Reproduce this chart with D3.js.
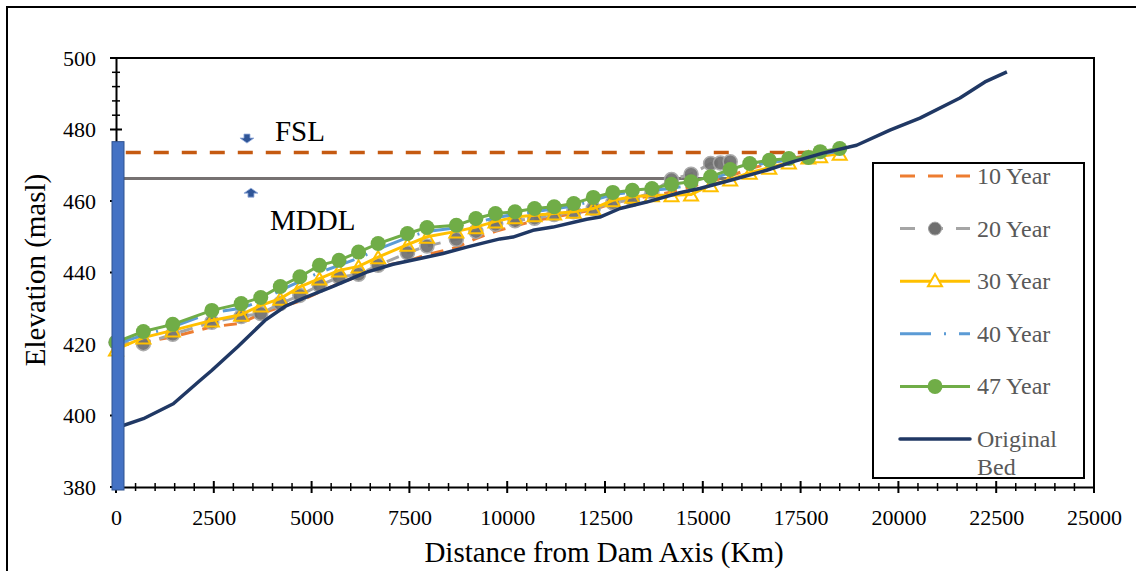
<!DOCTYPE html>
<html><head><meta charset="utf-8">
<script src="https://cdn.jsdelivr.net/npm/d3@7"></script>
<style>
body{margin:0;background:#fff;}
svg{display:block;font-family:"Liberation Serif","Times New Roman",serif;}
</style></head>
<body><svg id="chart" width="1136" height="571"></svg>
<script>
// ---------- data ----------
const stations = [0,700,1450,2450,3200,3700,4200,4700,5200,5700,6200,6700,7450,7950,8700,9200,9700,10200,10700,11200,11700,12200,12700,13200,13700,14200,14700,15200,15700,16200,16700,17200,17700,18000,18500];
const year10 = [419.5,420.5,422,424.8,425.8,428.5,430.3,432,434.5,437,439,441.5,443.2,445,447,449.5,451.5,453,454.5,455.5,456.5,457.5,459.5,460.5,461.5,462.5,464,465.5,467,469,470.5,471.8,472.8,473,473.5];
const year20X = [0,700,1450,2450,3200,3700,4200,4700,5200,5700,6200,6700,7450,7950,8700,9200,9700,10200,10700,11200,11700,12200,12700,13200,13700,14200,14700,15200,15450,15700];
const year20 = [420.5,420.1,422.7,426.1,427.7,428.5,431.3,433.6,436.4,438.7,439.5,442,445.5,447.4,449.3,451.5,453.5,454.5,455.2,456.2,457,457.9,459.5,460.4,462.5,466,467.5,470.5,470.6,471];
const year30 = [418.5,421.8,423.8,426.6,428.2,430.8,432.7,436,438.3,440.6,441.7,444.3,447.8,450,451.5,452.7,454.3,455.5,456,456.5,457,457.9,460.2,461.2,461.6,461.6,461.8,464.4,466,467.9,469.3,470.8,472.2,472.5,473.2];
const year40 = [420,422.5,424.8,428.8,430,432,435,437.5,440,442,444,446.5,449.8,451.5,452.5,454,455.3,456.3,457,457.8,458.6,460.2,461.8,462.5,463,463.5,464.5,466,468,469.8,470.8,471.5,472,473,474];
const year47 = [420.5,423.5,425.5,429.4,431.3,433,436.1,438.8,442,443.4,445.7,448.1,450.9,452.6,453.2,455.1,456.5,457,457.9,458.4,459.3,461,462.4,463,463.5,464.7,465.4,466.8,468.8,470.5,471.4,471.9,472.2,473.8,474.7];
const bedX = [0,698,1465,2147,2446,3118,3808,4320,4831,5547,6408,7080,7770,8358,8964,9475,9815,10147,10659,11170,12031,12371,12883,13565,14409,14921,15778,16632,17312,18071,18932,19783,20550,21573,22212,22774];
const bedY = [396.5,399.1,403.3,409.8,412.6,419.3,426.6,430.5,433.0,436.1,440.1,442.3,443.9,445.3,447.1,448.5,449.4,449.9,451.8,452.7,454.9,455.5,457.9,459.7,462.3,463.5,466,468.6,471,473.4,475.6,479.8,483.2,488.8,493.3,496.1];
const xTicks = [0,2500,5000,7500,10000,12500,15000,17500,20000,22500,25000];
const yTicks = [380,400,420,440,460,480,500];
const legendLabels = ["10 Year","20 Year","30 Year","40 Year","47 Year","Original Bed"];
const fslLevel = 473.6, fslEnd = 18500;
const mddlLevel = 466.3, mddlEnd = 15750;
const damTop = 476.6;

// ---------- scales ----------
const svg = d3.select("#chart");
const x = d3.scaleLinear().domain([0,25000]).range([116,1094]);
const y = d3.scaleLinear().domain([380,500]).range([487,58]);

// outer frame
svg.append("path").attr("d","M7,571 V7 H1136").attr("fill","none").attr("stroke","#000").attr("stroke-width",2);

// plot frame top/right
svg.append("path").attr("d",`M${x(0)},${y(500)} H${x(25000)} V${y(380)}`).attr("fill","none").attr("stroke","#000").attr("stroke-width",2);

// ---------- axes ----------
const gx = svg.append("g").attr("transform",`translate(0,${y(380)})`);
gx.call(d3.axisBottom(x).tickValues(xTicks).tickFormat(d3.format("d")).tickSize(0).tickPadding(22));
gx.select(".domain").attr("stroke","#000").attr("stroke-width",2);
gx.selectAll("text").attr("font-size",22).attr("font-family","Liberation Serif").attr("fill","#000");
gx.selectAll(".major").data(xTicks).enter().append("line").attr("x1",d=>x(d)).attr("x2",d=>x(d)).attr("y1",-6).attr("y2",6).attr("stroke","#000").attr("stroke-width",2);
gx.selectAll(".minor").data(d3.range(500,25000,500).filter(v=>v%2500!==0)).enter().append("line").attr("x1",d=>x(d)).attr("x2",d=>x(d)).attr("y1",-4).attr("y2",4).attr("stroke","#000").attr("stroke-width",1.5);

const gy = svg.append("g").attr("transform",`translate(${x(0)},0)`);
gy.call(d3.axisLeft(y).tickValues(yTicks).tickSize(0).tickPadding(20));
gy.select(".domain").attr("stroke","#000").attr("stroke-width",2);
gy.selectAll("text").attr("font-size",22).attr("font-family","Liberation Serif").attr("fill","#000");
gy.selectAll(".major").data(yTicks).enter().append("line").attr("y1",d=>y(d)).attr("y2",d=>y(d)).attr("x1",-6).attr("x2",6).attr("stroke","#000").attr("stroke-width",2);
gy.selectAll(".minor").data(d3.range(384,500,4).filter(v=>v%20!==0)).enter().append("line").attr("y1",d=>y(d)).attr("y2",d=>y(d)).attr("x1",-4).attr("x2",4).attr("stroke","#000").attr("stroke-width",1.5);

// axis titles
svg.append("text").attr("x",604).attr("y",562).attr("text-anchor","middle").attr("font-size",29).text("Distance from Dam Axis (Km)");
svg.append("text").attr("transform","translate(45,270) rotate(-90)").attr("text-anchor","middle").attr("font-size",29).text("Elevation (masl)");

// ---------- FSL / MDDL ----------
svg.append("line").attr("x1",x(250)).attr("x2",x(fslEnd)).attr("y1",y(fslLevel)).attr("y2",y(fslLevel)).attr("stroke","#C55A11").attr("stroke-width",3.5).attr("stroke-dasharray","15,13");
svg.append("line").attr("x1",x(200)).attr("x2",x(mddlEnd)).attr("y1",y(mddlLevel)).attr("y2",y(mddlLevel)).attr("stroke","#767171").attr("stroke-width",3);

// ---------- series ----------
const line = d3.line().x(d=>x(d[0])).y(d=>y(d[1]));
const zip = (xs,ys)=>xs.map((v,i)=>[v,ys[i]]);
const d10 = zip(stations,year10), d20 = zip(year20X,year20), d30 = zip(stations,year30), d40 = zip(stations,year40), d47 = zip(stations,year47), dBed = zip(bedX,bedY);

const g = svg.append("g");
g.append("path").attr("d",line(d10)).attr("fill","none").attr("stroke","#ED7D31").attr("stroke-width",3).attr("stroke-dasharray","13,9");
g.append("path").attr("d",line(d20)).attr("fill","none").attr("stroke","#A5A5A5").attr("stroke-width",3).attr("stroke-dasharray","13,9");
g.selectAll(".c20").data(d20).enter().append("circle").attr("cx",d=>x(d[0])).attr("cy",d=>y(d[1])).attr("r",7).attr("fill","#6F6F6F").attr("stroke","#A5A5A5").attr("stroke-width",1.5).attr("opacity",0.92);
g.append("path").attr("d",line(d30)).attr("fill","none").attr("stroke","#FFC000").attr("stroke-width",3);
const tri = d3.symbol().type(d3.symbolTriangle).size(85);
g.selectAll(".t30").data(d30).enter().append("path").attr("d",tri).attr("transform",d=>`translate(${x(d[0])},${y(d[1])+2})`).attr("fill","none").attr("stroke","#FFC000").attr("stroke-width",2);
g.append("path").attr("d",line(d40)).attr("fill","none").attr("stroke","#5B9BD5").attr("stroke-width",3).attr("stroke-dasharray","30,12,2,12");
g.append("path").attr("d",line(d47)).attr("fill","none").attr("stroke","#70AD47").attr("stroke-width",3);
g.selectAll(".c47").data(d47).enter().append("circle").attr("cx",d=>x(d[0])).attr("cy",d=>y(d[1])).attr("r",7.5).attr("fill","#70AD47");
g.append("path").attr("d",line(dBed)).attr("fill","none").attr("stroke","#203864").attr("stroke-width",3.5).attr("stroke-linejoin","round");

// dam
svg.append("rect").attr("x",x(0)-4).attr("width",12).attr("y",y(damTop)).attr("height",y(380)-y(damTop)+3).attr("fill","#4472C4").attr("stroke","#2F528F").attr("stroke-width",1);

// arrows + labels
function blockArrow(cx, tipY, dir){
  const h = 9, sh = 4, w = 14, sw = 6;
  const base = tipY - dir*h;
  const neck = tipY - dir*(h - sh);
  return `M${cx-sw/2},${base} L${cx+sw/2},${base} L${cx+sw/2},${neck} L${cx+w/2},${neck} L${cx},${tipY} L${cx-w/2},${neck} L${cx-sw/2},${neck} Z`;
}
svg.append("path").attr("d",blockArrow(x(3348),y(476.2),1)).attr("fill","#2F5597").attr("stroke","#8FAADC").attr("stroke-width",0.8);
svg.append("path").attr("d",blockArrow(x(3450),y(463.6),-1)).attr("fill","#2F5597").attr("stroke","#8FAADC").attr("stroke-width",0.8);
svg.append("text").attr("x",x(4064)).attr("y",y(476.8)).attr("font-size",29).text("FSL");
svg.append("text").attr("x",x(3936)).attr("y",y(451.8)).attr("font-size",29).text("MDDL");

// ---------- legend ----------
const lg = svg.append("g");
lg.append("rect").attr("x",873).attr("y",163).attr("width",211).attr("height",315).attr("fill","#fff").attr("stroke","#000").attr("stroke-width",2);
const rowY = i => 176 + i*52.6;
const lx1 = 900, lx2 = 970;
lg.append("line").attr("x1",lx1).attr("x2",lx2).attr("y1",rowY(0)).attr("y2",rowY(0)).attr("stroke","#ED7D31").attr("stroke-width",3).attr("stroke-dasharray","15,13");
lg.append("line").attr("x1",lx1).attr("x2",lx2).attr("y1",rowY(1)).attr("y2",rowY(1)).attr("stroke","#A5A5A5").attr("stroke-width",3).attr("stroke-dasharray","15,13");
lg.append("circle").attr("cx",(lx1+lx2)/2).attr("cy",rowY(1)).attr("r",6.5).attr("fill","#6F6F6F").attr("stroke","#A5A5A5").attr("stroke-width",1);
lg.append("line").attr("x1",lx1).attr("x2",lx2).attr("y1",rowY(2)).attr("y2",rowY(2)).attr("stroke","#FFC000").attr("stroke-width",3);
lg.append("path").attr("d",tri).attr("transform",`translate(${(lx1+lx2)/2},${rowY(2)+1})`).attr("fill","#fff").attr("stroke","#FFC000").attr("stroke-width",2);
lg.append("line").attr("x1",lx1).attr("x2",lx2).attr("y1",rowY(3)).attr("y2",rowY(3)).attr("stroke","#5B9BD5").attr("stroke-width",3).attr("stroke-dasharray","31,13,2,13");
lg.append("line").attr("x1",lx1).attr("x2",lx2).attr("y1",rowY(4)).attr("y2",rowY(4)).attr("stroke","#70AD47").attr("stroke-width",3);
lg.append("circle").attr("cx",(lx1+lx2)/2).attr("cy",rowY(4)).attr("r",7.5).attr("fill","#70AD47");
lg.append("line").attr("x1",lx1).attr("x2",lx2).attr("y1",rowY(5)).attr("y2",rowY(5)).attr("stroke","#203864").attr("stroke-width",3.5).attr("stroke-linecap","round");

legendLabels.forEach((t,i)=>{
  const parts = t === "Original Bed" ? ["Original","Bed"] : [t];
  parts.forEach((p,j)=>{
    lg.append("text").attr("x",977).attr("y",rowY(i)+8+j*28).attr("font-size",24).attr("fill","#595959").text(p);
  });
});
</script></body></html>
